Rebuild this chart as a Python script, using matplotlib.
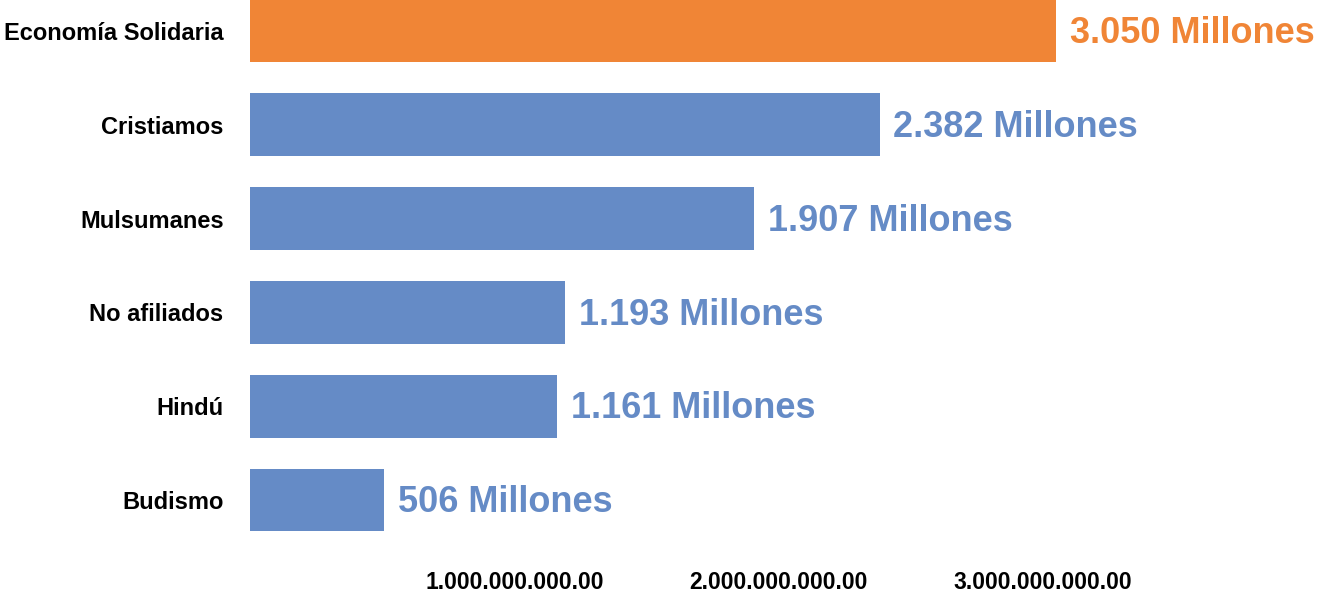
import matplotlib
matplotlib.use("Agg")
import matplotlib.pyplot as plt
from matplotlib.ticker import FixedLocator, FixedFormatter

# Data (millones de personas)
categories = ["Economía Solidaria", "Cristiamos", "Mulsumanes", "No afiliados", "Hindú", "Budismo"]
values_millions = [3050, 2382, 1907, 1193, 1161, 506]
value_labels = ["3.050 Millones", "2.382 Millones", "1.907 Millones",
                "1.193 Millones", "1.161 Millones", "506 Millones"]
x_ticks = [1e9, 2e9, 3e9]
x_tick_labels = ["1.000.000.000.00", "2.000.000.000.00", "3.000.000.000.00"]

orange = "#F08536"
blue = "#658BC6"
colors = [orange] + [blue] * (len(categories) - 1)

plt.rcParams['font.family'] = ['Liberation Sans', 'DejaVu Sans']

fig = plt.figure(figsize=(13.23, 5.94), dpi=100)
ax = fig.add_axes([250 / 1323, 1 - 560 / 594, 1 - 250 / 1323, 560 / 594])

values = [v * 1e6 for v in values_millions]
y_pos = list(range(len(categories)))
ax.barh(y_pos, values, height=0.67, color=colors)

for y, v, lab, c in zip(y_pos, values, value_labels, colors):
    ax.annotate(lab, xy=(v, y), xytext=(10, -2), textcoords="offset points",
                va="center", ha="left", fontsize=26, fontweight="bold", color=c)

ax.set_xlim(0, 4.06e9)
ax.set_ylim(5.64, -0.33)

ax.set_yticks(y_pos)
ax.set_yticklabels(categories, fontsize=17, fontweight="bold")
ax.xaxis.set_major_locator(FixedLocator(x_ticks))
ax.xaxis.set_major_formatter(FixedFormatter(x_tick_labels))
ax.tick_params(axis="y", length=0, pad=19)
ax.tick_params(axis="x", length=0, pad=8, labelsize=16.5)
for lbl in ax.get_xticklabels():
    lbl.set_fontweight("bold")

for s in ax.spines.values():
    s.set_visible(False)

fig.savefig("out.png", dpi=100)
